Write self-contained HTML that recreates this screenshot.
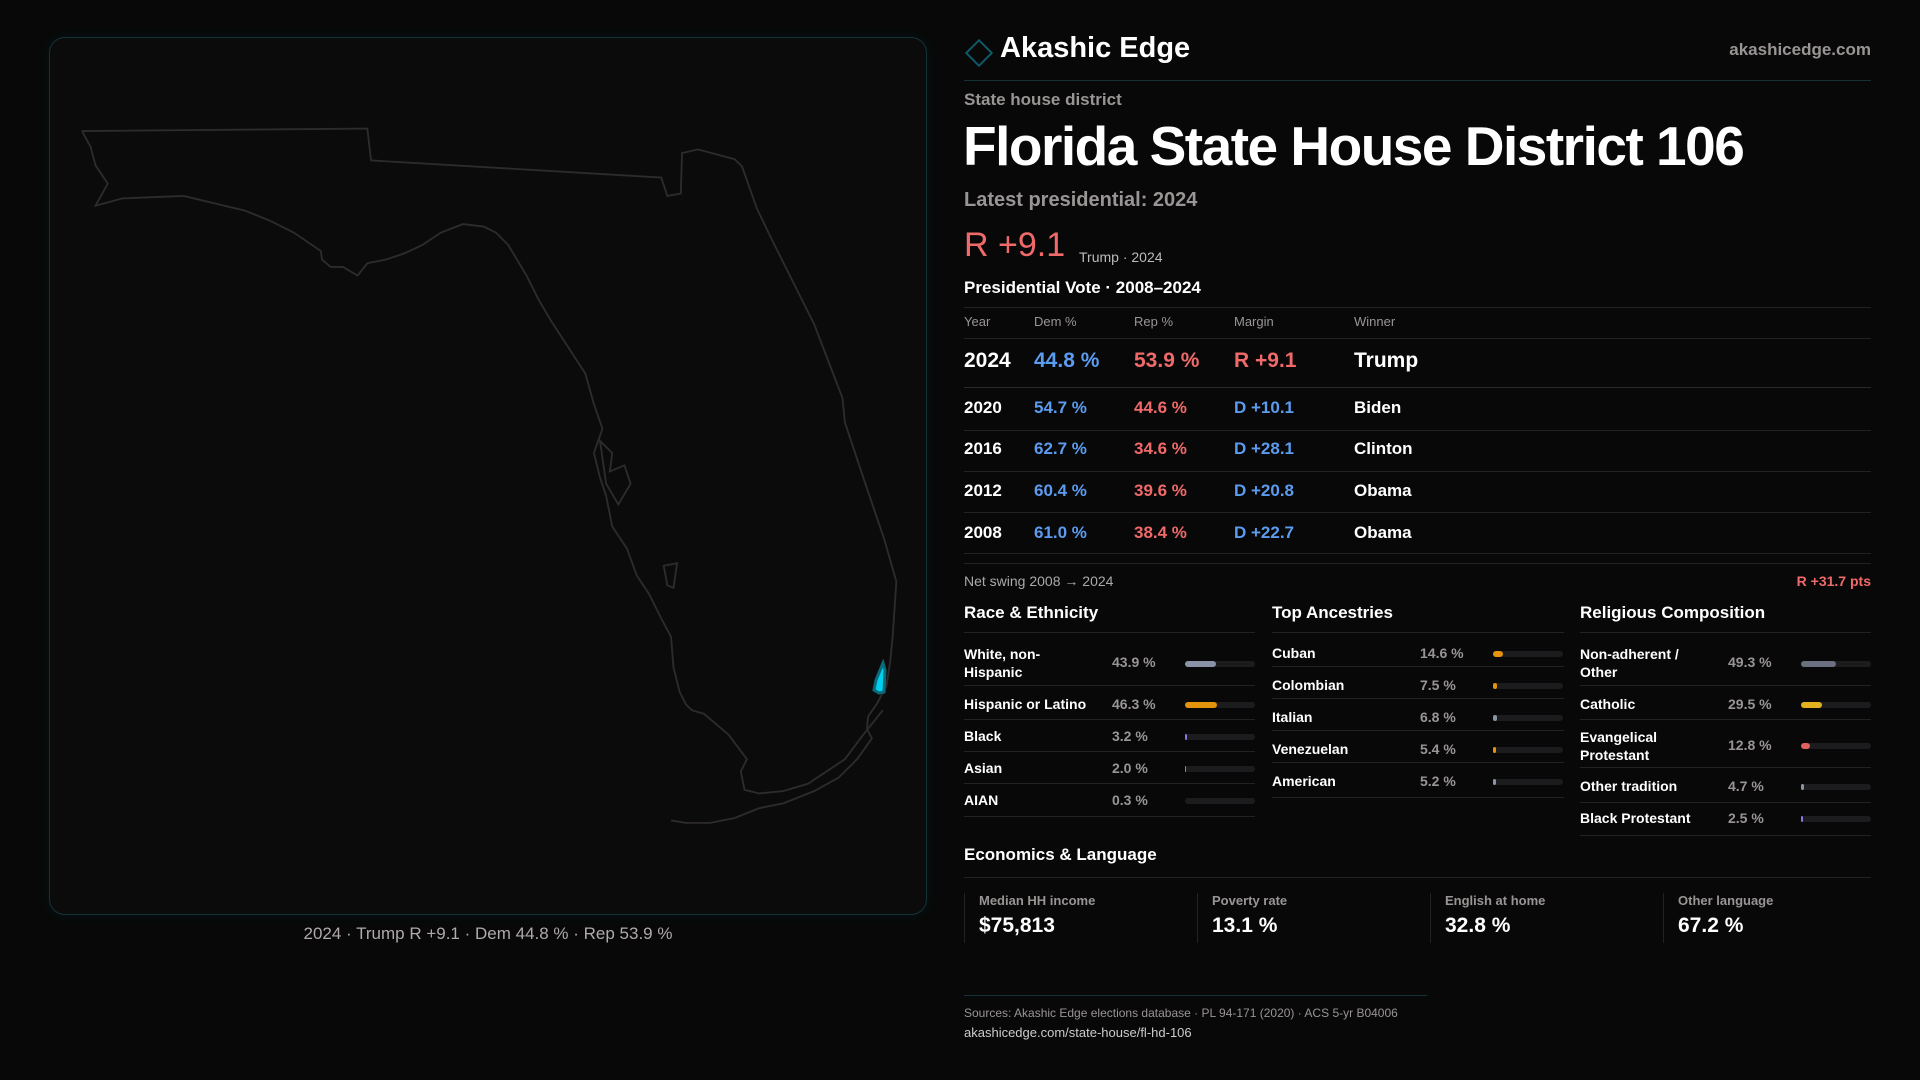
<!DOCTYPE html>
<html><head><meta charset="utf-8"><style>
*{margin:0;padding:0;box-sizing:border-box}
body{width:1920px;height:1080px;background:#080808;font-family:"Liberation Sans",sans-serif;color:#fff;position:relative;overflow:hidden}
.a{position:absolute;white-space:nowrap}
.g{color:#9a9595}
.line{position:absolute;height:1px;background:#222}
.blue{color:#5b9cf0}.red{color:#f06a6a}
.bar{position:absolute;height:6px;border-radius:3px;background:#1c1c1e;width:70px}
.bar i{position:absolute;left:0;top:0;height:6px;border-radius:3px}
.cell{position:absolute;top:893px;height:50px;border-left:1px solid #222;padding-left:14px}
</style></head><body>
<div class="a" style="left:49px;top:37px;width:878px;height:878px;border:1px solid #153236;border-radius:16px;background:#0c0b0c;box-shadow:0 0 14px rgba(0,180,200,0.08)"></div>
<svg class="a" style="left:0;top:0" width="1920" height="1080"><g transform="scale(1.2245)" fill="none" stroke="#2e2b2b" stroke-width="1.5">
<path d="M67,107 L300,105 L303,131 L540,145 L545,160 L556,158 L557,125 L570,122 L600,130 L606,136 L618,170 L630,195 L650,235 L665,265 L688,325 L690,345 L705,390 L722,440 L732,475 L729,520 L727,540 L724,560 L716,575 L709,585 L708,595 L712,603 L700,620 L685,635 L665,646 L640,656 L620,660 L600,668 L580,672 L560,672 L548,670"/>
<path d="M721,580 L705,600 L690,620 L660,640 L640,646 L620,648 L608,645 L605,630 L610,620 L595,600 L575,583 L565,580 L560,575 L555,565 L550,545 L548,520 L540,505 L530,485 L520,470 L512,448 L500,430 L495,405 L490,390 L485,370 L492,350 L485,330 L478,305 L465,285 L450,262 L440,245 L430,225 L415,200 L405,190 L395,185 L378,183 L360,190 L345,200 L330,207 L315,212 L300,215 L292,225 L280,218 L270,218 L263,212 L262,205 L240,190 L220,180 L200,172 L150,160 L100,162 L78,168 L88,150 L78,135 L74,120 L67,107"/>
<path d="M490,360 L500,370 L498,385 L510,380 L515,395 L505,412 L495,395 Z" />
<path d="M542,462 L553,460 L550,480 L545,478 Z"/>
</g>
<path d="M883,663 L876,680 L874,690 L879,693 L884,692 L885,670 Z" fill="#00d0f0" stroke="#0a6a78" stroke-width="3"/>
</svg>
<div class="a g" style="left:0;width:976px;text-align:center;top:924px;font-size:17px;color:#b0aaaa">2024 · Trump R +9.1 · Dem 44.8 % · Rep 53.9 %</div>

<div class="a" style="left:969px;top:43px;width:20px;height:20px;border:2px solid #0f5a66;transform:rotate(45deg)"></div>
<div class="a" style="left:1000px;top:32px;font-size:29px;font-weight:600">Akashic Edge</div>
<div class="a g" style="right:49px;top:40px;font-size:17px;font-weight:bold">akashicedge.com</div>
<div class="line" style="left:964px;width:907px;top:80px;background:#163238"></div>
<div class="a g" style="left:964px;top:90px;font-size:17px;font-weight:bold">State house district</div>
<div class="a" style="left:963px;top:114px;font-size:55px;font-weight:bold;letter-spacing:-1.5px">Florida State House District 106</div>
<div class="a g" style="left:964px;top:189px;font-size:20px;font-weight:bold">Latest presidential: 2024</div>
<div class="a red" style="left:964px;top:226px;font-size:34px">R +9.1</div>
<div class="a g" style="left:1079px;top:249px;font-size:14px;color:#bbb">Trump · 2024</div>
<div class="a" style="left:964px;top:278px;font-size:17px;font-weight:bold">Presidential Vote · 2008–2024</div>
<div class="line" style="left:964px;width:907px;top:307px"></div>
<div class="a g" style="left:964px;top:314px;font-size:13px">Year</div>
<div class="a g" style="left:1034px;top:314px;font-size:13px">Dem %</div>
<div class="a g" style="left:1134px;top:314px;font-size:13px">Rep %</div>
<div class="a g" style="left:1234px;top:314px;font-size:13px">Margin</div>
<div class="a g" style="left:1354px;top:314px;font-size:13px">Winner</div>
<div class="line" style="left:964px;width:907px;top:338px"></div>
<div style="position:absolute;left:964px;top:349px;font-size:21px;font-weight:bold;width:600px;height:26px">
<span class="a">2024</span><span class="a blue" style="left:70px">44.8 %</span><span class="a red" style="left:170px">53.9 %</span><span class="a red" style="left:270px">R +9.1</span><span class="a" style="left:390px">Trump</span></div>
<div class="line" style="left:964px;width:907px;top:387px;background:#2a2a2a"></div>
<div style="position:absolute;left:964px;top:398px;font-size:17px;font-weight:bold;width:600px"><span class="a">2020</span><span class="a blue" style="left:70px">54.7 %</span><span class="a red" style="left:170px">44.6 %</span><span class="a blue" style="left:270px">D +10.1</span><span class="a" style="left:390px">Biden</span></div>
<div class="line" style="left:964px;width:907px;top:430px"></div>
<div style="position:absolute;left:964px;top:439px;font-size:17px;font-weight:bold;width:600px"><span class="a">2016</span><span class="a blue" style="left:70px">62.7 %</span><span class="a red" style="left:170px">34.6 %</span><span class="a blue" style="left:270px">D +28.1</span><span class="a" style="left:390px">Clinton</span></div>
<div class="line" style="left:964px;width:907px;top:471px"></div>
<div style="position:absolute;left:964px;top:481px;font-size:17px;font-weight:bold;width:600px"><span class="a">2012</span><span class="a blue" style="left:70px">60.4 %</span><span class="a red" style="left:170px">39.6 %</span><span class="a blue" style="left:270px">D +20.8</span><span class="a" style="left:390px">Obama</span></div>
<div class="line" style="left:964px;width:907px;top:512px"></div>
<div style="position:absolute;left:964px;top:523px;font-size:17px;font-weight:bold;width:600px"><span class="a">2008</span><span class="a blue" style="left:70px">61.0 %</span><span class="a red" style="left:170px">38.4 %</span><span class="a blue" style="left:270px">D +22.7</span><span class="a" style="left:390px">Obama</span></div>
<div class="line" style="left:964px;width:907px;top:553px"></div>
<div class="line" style="left:964px;width:907px;top:563px"></div>
<div class="a g" style="left:964px;top:573px;font-size:14px;color:#aaa">Net swing 2008 → 2024</div>
<div class="a red" style="right:49px;top:573px;font-size:14px;font-weight:bold">R +31.7 pts</div>

<div class="a" style="left:964px;top:603px;font-size:17px;font-weight:bold">Race &amp; Ethnicity</div>
<div class="line" style="left:964px;width:291px;top:632px"></div>
<div style="position:absolute;left:964px;top:0;width:291px;font-size:14px;font-weight:bold">
<div class="a" style="top:645px;line-height:18px">White, non-<br>Hispanic</div><div class="a g" style="left:148px;top:654px">43.9 %</div><div class="bar" style="left:221px;top:661px"><i style="width:31px;background:#8a93a5"></i></div>
<div class="line" style="left:0;width:291px;top:685px"></div>
<div class="a" style="top:696px">Hispanic or Latino</div><div class="a g" style="left:148px;top:696px">46.3 %</div><div class="bar" style="left:221px;top:702px"><i style="width:32px;background:#e3930c"></i></div>
<div class="line" style="left:0;width:291px;top:719px"></div>
<div class="a" style="top:728px">Black</div><div class="a g" style="left:148px;top:728px">3.2 %</div><div class="bar" style="left:221px;top:734px"><i style="width:2px;background:#8a78e0"></i></div>
<div class="line" style="left:0;width:291px;top:751px"></div>
<div class="a" style="top:760px">Asian</div><div class="a g" style="left:148px;top:760px">2.0 %</div><div class="bar" style="left:221px;top:766px"><i style="width:1px;background:#3bb08a"></i></div>
<div class="line" style="left:0;width:291px;top:783px"></div>
<div class="a" style="top:792px">AIAN</div><div class="a g" style="left:148px;top:792px">0.3 %</div><div class="bar" style="left:221px;top:798px"></div>
<div class="line" style="left:0;width:291px;top:816px"></div>
</div>
<div class="a" style="left:1272px;top:603px;font-size:17px;font-weight:bold">Top Ancestries</div>
<div class="line" style="left:1272px;width:292px;top:632px"></div>
<div style="position:absolute;left:1272px;top:0;width:292px;font-size:14px;font-weight:bold">
<div class="a" style="top:645px">Cuban</div><div class="a g" style="left:148px;top:645px">14.6 %</div><div class="bar" style="left:221px;top:651px"><i style="width:10px;background:#e3930c"></i></div>
<div class="line" style="left:0;width:292px;top:666px"></div>
<div class="a" style="top:677px">Colombian</div><div class="a g" style="left:148px;top:677px">7.5 %</div><div class="bar" style="left:221px;top:683px"><i style="width:4px;background:#e3930c"></i></div>
<div class="line" style="left:0;width:292px;top:698px"></div>
<div class="a" style="top:709px">Italian</div><div class="a g" style="left:148px;top:709px">6.8 %</div><div class="bar" style="left:221px;top:715px"><i style="width:4px;background:#8a93a5"></i></div>
<div class="line" style="left:0;width:292px;top:730px"></div>
<div class="a" style="top:741px">Venezuelan</div><div class="a g" style="left:148px;top:741px">5.4 %</div><div class="bar" style="left:221px;top:747px"><i style="width:3px;background:#e3930c"></i></div>
<div class="line" style="left:0;width:292px;top:762px"></div>
<div class="a" style="top:773px">American</div><div class="a g" style="left:148px;top:773px">5.2 %</div><div class="bar" style="left:221px;top:779px"><i style="width:3px;background:#8a93a5"></i></div>
<div class="line" style="left:0;width:292px;top:797px"></div>
</div>
<div class="a" style="left:1580px;top:603px;font-size:17px;font-weight:bold">Religious Composition</div>
<div class="line" style="left:1580px;width:291px;top:632px"></div>
<div style="position:absolute;left:1580px;top:0;width:291px;font-size:14px;font-weight:bold">
<div class="a" style="top:645px;line-height:18px">Non-adherent /<br>Other</div><div class="a g" style="left:148px;top:654px">49.3 %</div><div class="bar" style="left:221px;top:661px"><i style="width:35px;background:#6a7080"></i></div>
<div class="line" style="left:0;width:291px;top:685px"></div>
<div class="a" style="top:696px">Catholic</div><div class="a g" style="left:148px;top:696px">29.5 %</div><div class="bar" style="left:221px;top:702px"><i style="width:21px;background:#e3b020"></i></div>
<div class="line" style="left:0;width:291px;top:719px"></div>
<div class="a" style="top:728px;line-height:18px">Evangelical<br>Protestant</div><div class="a g" style="left:148px;top:737px">12.8 %</div><div class="bar" style="left:221px;top:743px"><i style="width:9px;background:#e06060"></i></div>
<div class="line" style="left:0;width:291px;top:767px"></div>
<div class="a" style="top:778px">Other tradition</div><div class="a g" style="left:148px;top:778px">4.7 %</div><div class="bar" style="left:221px;top:784px"><i style="width:3px;background:#8a93a5"></i></div>
<div class="line" style="left:0;width:291px;top:802px"></div>
<div class="a" style="top:810px">Black Protestant</div><div class="a g" style="left:148px;top:810px">2.5 %</div><div class="bar" style="left:221px;top:816px"><i style="width:2px;background:#8a78e0"></i></div>
<div class="line" style="left:0;width:291px;top:835px"></div>
</div>

<div class="a" style="left:964px;top:845px;font-size:17px;font-weight:bold">Economics &amp; Language</div>
<div class="line" style="left:964px;width:907px;top:877px"></div>
<div class="cell" style="left:964px"><div class="g" style="font-size:13px;font-weight:bold">Median HH income</div><div style="font-size:21px;font-weight:bold;margin-top:6px">$75,813</div></div>
<div class="cell" style="left:1197px"><div class="g" style="font-size:13px;font-weight:bold">Poverty rate</div><div style="font-size:21px;font-weight:bold;margin-top:6px">13.1 %</div></div>
<div class="cell" style="left:1430px"><div class="g" style="font-size:13px;font-weight:bold">English at home</div><div style="font-size:21px;font-weight:bold;margin-top:6px">32.8 %</div></div>
<div class="cell" style="left:1663px"><div class="g" style="font-size:13px;font-weight:bold">Other language</div><div style="font-size:21px;font-weight:bold;margin-top:6px">67.2 %</div></div>

<div class="line" style="left:964px;width:463px;top:995px;background:#163238"></div>
<div class="a g" style="left:964px;top:1006px;font-size:12px">Sources: Akashic Edge elections database · PL 94-171 (2020) · ACS 5-yr B04006</div>
<div class="a" style="left:964px;top:1025px;font-size:13px;color:#ccc">akashicedge.com/state-house/fl-hd-106</div>
</body></html>
